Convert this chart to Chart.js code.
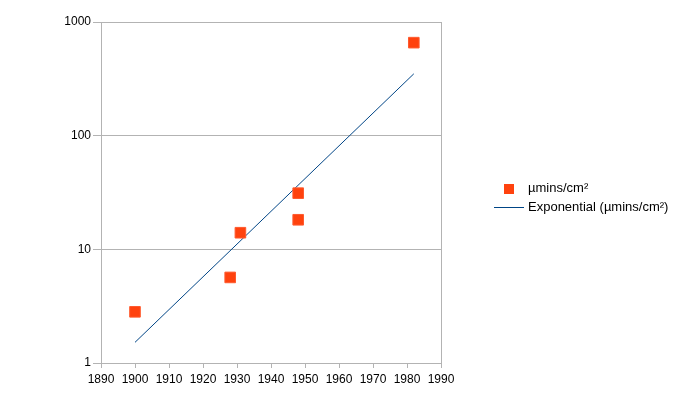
<!DOCTYPE html>
<html>
<head>
<meta charset="utf-8">
<script src="https://cdn.jsdelivr.net/npm/chart.js@4.4.1/dist/chart.umd.min.js"></script>
<style>
  body { margin: 0; background: #fff; }
  #wrap { position: relative; width: 681px; height: 394px; }
  #chart { position: absolute; left: 0; top: 0; }
  .legend { position: absolute; left: 0; top: 0; font-family: "Liberation Sans", Arial, sans-serif; font-size: 13px; color: #000; }
  .legend .row { position: absolute; white-space: nowrap; height: 16px; line-height: 16px; }
  .legend .mark { position: absolute; width: 10px; height: 10px; background: #ff420e; left: -24px; top: 4px; }
  .legend .line { position: absolute; width: 30px; height: 1px; background: #004586; left: -34px; top: 8px; }
</style>
</head>
<body>
<div id="wrap">
  <canvas id="chart" width="681" height="394"></canvas>
  <div class="legend">
    <div class="row" style="left:528px; top:180px;"><span class="mark"></span>µmins/cm²</div>
    <div class="row" style="left:528px; top:199px;"><span class="line"></span>Exponential (µmins/cm²)</div>
  </div>
</div>
<script>
// measured points
const years = [1900, 1928, 1931, 1948, 1948, 1982];
const values = [2.82, 5.66, 14.0, 31.2, 18.2, 658];

// trend line ends
const trendYears = [1900, 1982];
const trendValues = [1.52, 350];

const yTicks = [1, 10, 100, 1000];

const gridColor = '#b3b3b3';

const frame = {
    id: 'frame',
    afterDraw(chart) {
        const { ctx, chartArea: { left, right, top, bottom } } = chart;
        ctx.save();
        ctx.strokeStyle = gridColor;
        ctx.lineWidth = 1;
        ctx.beginPath();
        ctx.moveTo(Math.round(right) + 0.5, top);
        ctx.lineTo(Math.round(right) + 0.5, bottom);
        ctx.stroke();
        ctx.restore();
    }
};

const ctx = document.getElementById('chart').getContext('2d');
new Chart(ctx, {
    type: 'scatter',
    data: {
        datasets: [{
            label: 'µmins/cm²',
            data: years.map((x, i) => ({ x: x, y: values[i] })),
            pointStyle: 'rect',
            pointRadius: 7.5,
            backgroundColor: '#ff420e',
            borderColor: '#ff5a2e',
            borderWidth: 1,
            order: 1
        }, {
            type: 'line',
            label: 'Exponential (µmins/cm²)',
            data: trendYears.map((x, i) => ({ x: x, y: trendValues[i] })),
            borderColor: '#004586',
            borderWidth: 1,
            pointRadius: 0,
            fill: false,
            order: 2
        }]
    },
    options: {
        responsive: false,
        animation: false,
        layout: { padding: { top: 22, right: 240, bottom: 0, left: 0 } },
        plugins: {
            legend: { display: false },
            tooltip: { enabled: false }
        },
        scales: {
            x: {
                type: 'linear',
                min: 1890,
                max: 1990,
                ticks: {
                    stepSize: 10,
                    color: '#000',
                    font: { family: 'Liberation Sans', size: 12 },
                    padding: 4,
                    maxRotation: 0,
                    callback: v => String(v)
                },
                grid: { drawOnChartArea: false, color: gridColor, tickLength: 5 },
                border: { color: gridColor },
                afterFit(scale) { scale.height = 31; }
            },
            y: {
                type: 'logarithmic',
                min: 1,
                max: 1000,
                afterBuildTicks(scale) {
                    scale.ticks = yTicks.map(v => ({ value: v }));
                },
                ticks: {
                    color: '#000',
                    font: { family: 'Liberation Sans', size: 12 },
                    padding: 2,
                    callback: v => String(v)
                },
                grid: { color: gridColor, tickLength: 8 },
                border: { color: gridColor },
                afterFit(scale) { scale.width = 101; }
            }
        }
    },
    plugins: [frame]
});
</script>
</body>
</html>
